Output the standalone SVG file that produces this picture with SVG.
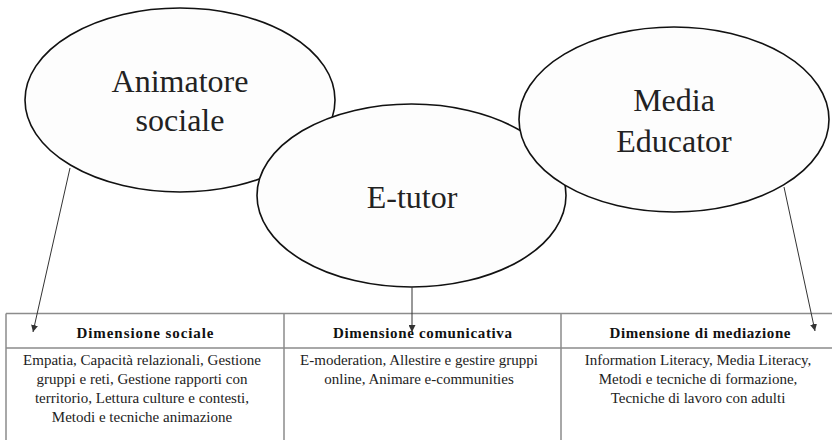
<svg xmlns="http://www.w3.org/2000/svg" width="832" height="440" viewBox="0 0 832 440">
<defs>
<marker id="ah" viewBox="0 0 10 10" refX="10" refY="5" markerWidth="7" markerHeight="7" markerUnits="userSpaceOnUse" orient="auto">
<path d="M0,0 L10,5 L0,10 z" fill="#333"/>
</marker>
<style>
.ell{fill:#fdfdfd;stroke:#111;stroke-width:1.6}
.big{font-family:"Liberation Serif",serif;font-size:32px;fill:#222;text-anchor:middle}
.hd{font-family:"Liberation Serif",serif;font-size:15px;font-weight:bold;fill:#111;text-anchor:middle}
.bd{font-family:"Liberation Serif",serif;font-size:15px;fill:#222;text-anchor:middle}
.grid{stroke:#8c8c8c;stroke-width:1.5;fill:none}
.conn{stroke:#333;stroke-width:1;fill:none;marker-end:url(#ah)}
</style>
</defs>
<rect width="832" height="440" fill="#fff"/>
<g id="animatore">
<ellipse class="ell" cx="180" cy="100" rx="155" ry="92"/>
<text class="big" x="180" y="92">Animatore</text>
<text class="big" x="180" y="131">sociale</text>
</g>
<g id="etutor">
<ellipse class="ell" cx="411.5" cy="195.5" rx="154.5" ry="91.5"/>
<text class="big" x="412" y="208">E-tutor</text>
</g>
<g id="media">
<ellipse class="ell" cx="674" cy="119.5" rx="155" ry="92.5"/>
<text class="big" x="674" y="111">Media</text>
<text class="big" x="674" y="152">Educator</text>
</g>
<g id="table">
<path class="grid" d="M6,313.5 H840 M6,348 H840 M6,313.5 V440 M284,313.5 V440 M561,313.5 V440"/>
<g id="col-sociale">
<text class="hd" x="145" y="338" textLength="137" lengthAdjust="spacing">Dimensione sociale</text>
<text class="bd" x="142" y="365">Empatia, Capacità relazionali, Gestione</text>
<text class="bd" x="142" y="384">gruppi e reti, Gestione rapporti con</text>
<text class="bd" x="142" y="403">territorio, Lettura culture e contesti,</text>
<text class="bd" x="142" y="422">Metodi e tecniche animazione</text>
</g>
<g id="col-comunicativa">
<text class="hd" x="422.5" y="338" textLength="179" lengthAdjust="spacing">Dimensione comunicativa</text>
<text class="bd" x="419" y="365">E-moderation, Allestire e gestire gruppi</text>
<text class="bd" x="419" y="384">online, Animare e-communities</text>
</g>
<g id="col-mediazione">
<text class="hd" x="700" y="338" textLength="181" lengthAdjust="spacing">Dimensione di mediazione</text>
<text class="bd" x="698" y="365">Information Literacy, Media Literacy,</text>
<text class="bd" x="698" y="384">Metodi e tecniche di formazione,</text>
<text class="bd" x="698" y="403">Tecniche di lavoro con adulti</text>
</g>
</g>
<g id="connectors">
<line class="conn" x1="70" y1="168" x2="33" y2="332"/>
<line class="conn" x1="412" y1="287" x2="412" y2="332"/>
<line class="conn" x1="784" y1="187" x2="815" y2="331"/>
</g>
</svg>
